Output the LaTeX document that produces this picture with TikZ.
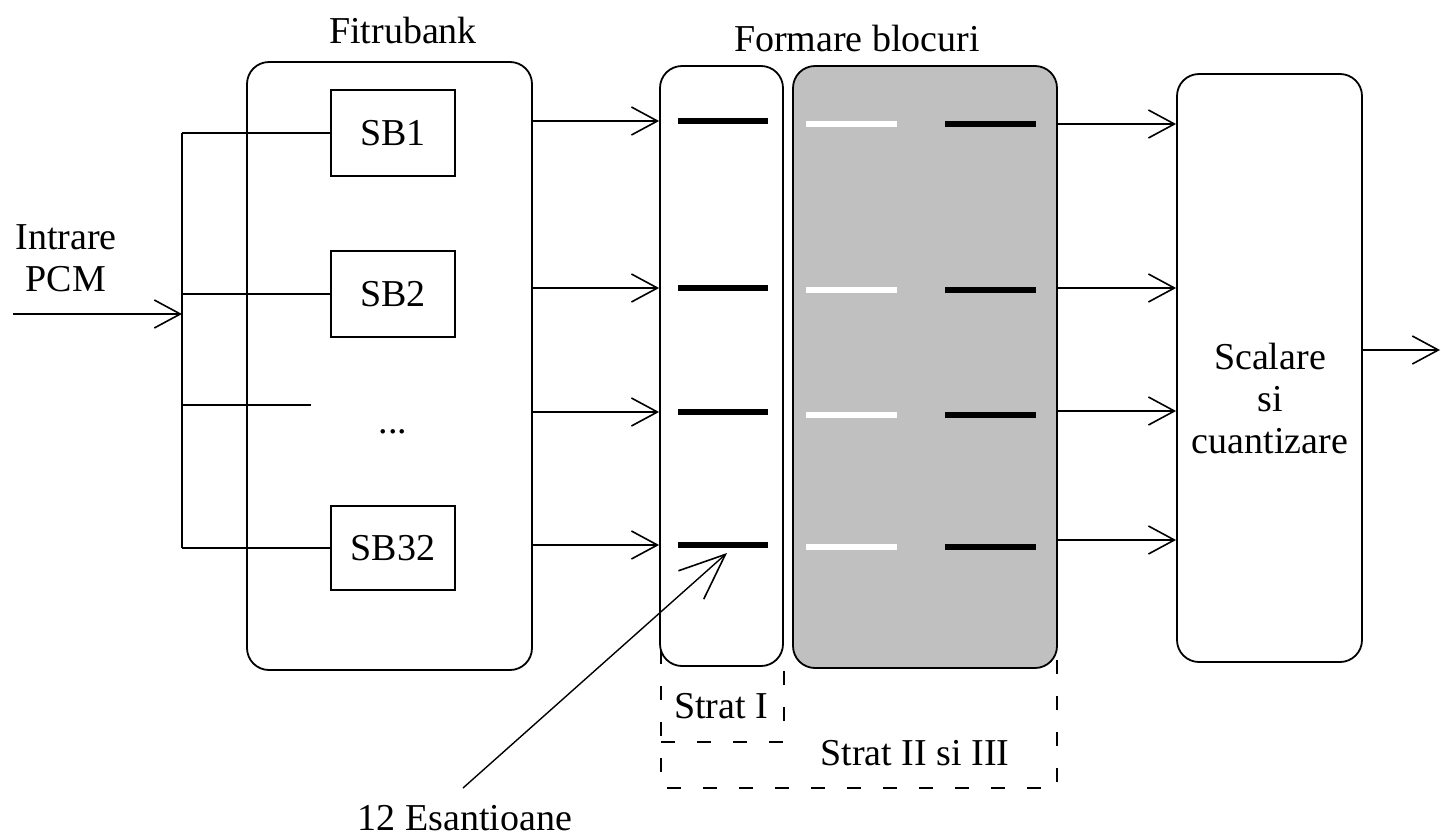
\documentclass[tikz,border=0pt]{standalone}
\usepackage{fontspec}
\setmainfont{Liberation Serif}
\usetikzlibrary{arrows.meta}

\begin{document}
\begin{tikzpicture}[x=1pt,y=-1pt,line width=1.8pt,
  txt/.style={font=\fontsize{38}{42}\selectfont,inner sep=0pt},
  blk/.style={draw,rounded corners=22pt,minimum width=#1},
  sub/.style={draw,rectangle,minimum width=124pt,minimum height=86pt,
              txt},
  arr/.style={-{Straight Barb[length=26pt,width=28pt,line width=1.6pt]}},
  longarr/.style={line width=1.4pt,
              -{Straight Barb[length=46pt,width=38pt,line width=1.6pt]}},
  blackbar/.style={line width=6pt,black},
  whitebar/.style={line width=6pt,white},
  dashbox/.style={dash pattern=on 14pt off 22pt,line width=1.8pt}]
\useasboundingbox (0,0) rectangle (1441,836);

% --- filter bank ---
\node[blk=285pt,minimum height=608pt] (fb) at (389.5,366) {};
\node[txt] (fblab) at (403,30) {Fitrubank};
\node[sub] (sb1) at (393,133) {SB1};
\node[sub] (sb2) at (393,294) {SB2};
\node[sub,minimum height=84pt] (sb32) at (393,548) {SB32};
\node[txt] (dots) at (393,432) {...};

% input bus
\coordinate (bustop) at (182,133);
\coordinate (busbot) at (182,548);
\coordinate (dotsend) at (311,405);
\coordinate (in) at (13,314);
\draw (bustop) -- (busbot);
\draw (bustop) -- (sb1.west);
\draw (sb2.west -| bustop) -- (sb2.west);
\draw (sb32.west -| bustop) -- (sb32.west);
\draw (dotsend -| bustop) -- (dotsend);
\draw[arr] (in) -- (in -| bustop);
\node[txt,align=center] (inlab) at (66,258) {Intrare\\PCM};

% --- block forming ---
\node[blk=123pt,minimum height=600pt] (s1) at (721.5,366) {};
\node[blk=264pt,minimum height=602pt,fill={rgb,255:red,192;green,192;blue,192}]
  (s23) at (925,367) {};
\node[txt] (fblk) at (857,38) {Formare blocuri};

% rows of samples
\foreach \i/\ya/\yb in {1/121/124,2/288/290,3/412/415,4/545/547}{
  \coordinate (ra\i) at (0,\ya);
  \coordinate (rb\i) at (0,\yb);
  \draw[arr] (fb.east |- ra\i) -- (s1.west |- ra\i);
  \draw[blackbar] (678,\ya) -- (768,\ya);
  \draw[whitebar] (806,\yb) -- (897,\yb);
  \draw[blackbar] (945,\yb) -- (1036,\yb);
}

% --- scaling and quantization ---
\node[blk=185pt,minimum height=588pt] (sc) at (1269.5,368) {};
\node[txt,align=center] (sclab) at (1270,398) {Scalare\\si\\cuantizare};
\foreach \y in {124,288,411,540}{
  \coordinate (o) at (0,\y);
  \draw[arr] (s23.east |- o) -- (sc.west |- o);
}
\coordinate (out) at (1440,350);
\draw[arr] (sc.east |- out) -- (out);

% --- layer brackets ---
\coordinate (dl) at (661,650);
\coordinate (dm) at (784,650);
\coordinate (dr) at (1057,650);
\draw[dashbox] (dl) -- (661,788) -- (1057,788) -- (dr);
\draw[dashbox] (661,742) -- (784,742) -- (dm);
\node[txt] (st1) at (721,706) {Strat I};
\node[txt] (st23) at (915,753) {Strat II si III};

% --- samples label ---
\node[txt] (esant) at (465,818) {12 Esantioane};
\coordinate (tip) at (727,553);
\draw[longarr] (463,788) -- (tip);
\end{tikzpicture}
\end{document}
